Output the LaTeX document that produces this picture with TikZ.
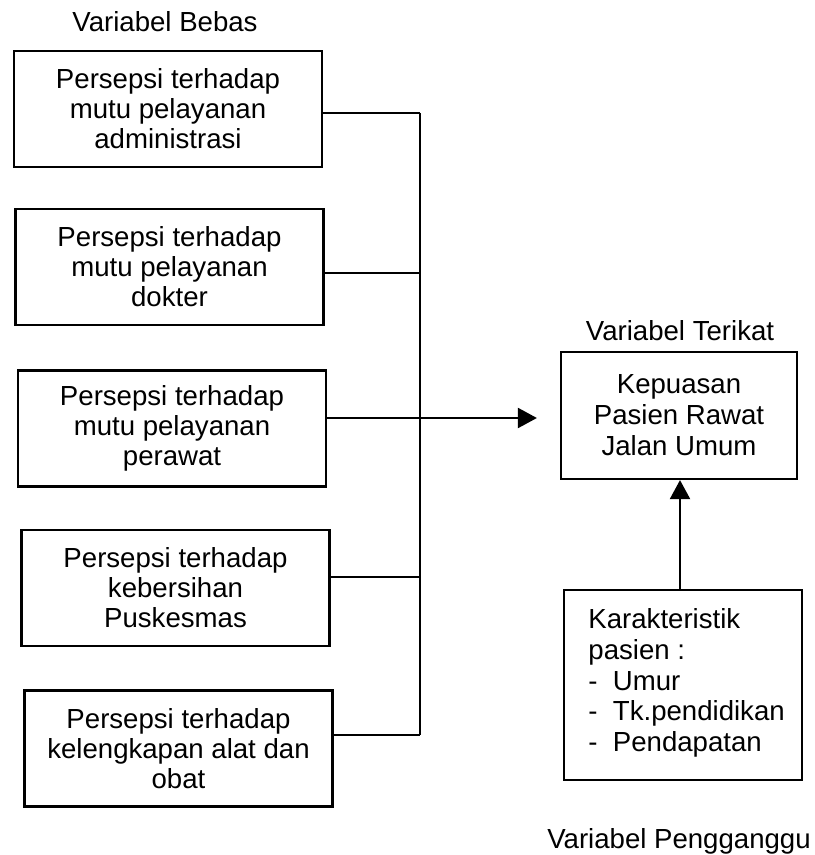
\documentclass[tikz,border=0pt]{standalone}
\usepackage{fontspec}
\setmainfont{Liberation Sans}
\usetikzlibrary{arrows.meta}
\begin{document}
\begin{tikzpicture}[x=0.5pt,y=-0.5pt,
  lbl/.style={font=\fontsize{13.8}{15.4}\selectfont, inner sep=0pt},
  varbox/.style={draw, line width=1.1pt, minimum width=154pt, minimum height=58pt,
    align=center, font=\fontsize{13.8}{15}\selectfont, inner sep=0pt},
  link/.style={line width=1.1pt},
  tip/.style={-{Triangle[length=9.5pt,width=10pt]}}]
\useasboundingbox (0,0) rectangle (814,855);

% independent variables
\node[lbl, anchor=base] (tbebas) at (165,32) {Variabel Bebas};
\node[varbox] (v1) at (168,109)   {Persepsi terhadap\\mutu pelayanan\\administrasi};
\node[varbox] (v2) at (169.5,267) {Persepsi terhadap\\mutu pelayanan\\dokter};
\node[varbox] (v3) at (172,428.5) {Persepsi terhadap\\mutu pelayanan\\perawat};
\node[varbox] (v4) at (175.5,588) {Persepsi terhadap\\kebersihan\\Puskesmas};
\node[varbox] (v5) at (178.5,748.5) {Persepsi terhadap\\kelengkapan alat dan\\obat};

% dependent variable
\node[lbl, anchor=base] (tterikat) at (680,340) {Variabel Terikat};
\node[varbox, minimum width=118pt, minimum height=63.5pt, font=\fontsize{13.8}{15.5}\selectfont]
  (dep) at (679,415.5) {Kepuasan\\Pasien Rawat\\Jalan Umum};

% confounding variable
\node[draw, line width=1.1pt, minimum width=119pt, minimum height=95pt, inner sep=0pt]
  (conf) at (683,685) {};
\node[lbl, anchor=north west, align=left, font=\fontsize{13.8}{15.4}\selectfont]
  (conftext) at (588,608) {Karakteristik\\pasien :\\-\ \ Umur\\-\ \ Tk.pendidikan\\-\ \ Pendapatan};
\node[lbl, anchor=base] (tganggu) at (679,848) {Variabel Pengganggu};

% collecting bus
\coordinate (j1) at (420,113);
\coordinate (j2) at (420,273);
\coordinate (j3) at (420,418);
\coordinate (j4) at (420,577);
\coordinate (j5) at (420,735);
\draw[link] (v1.east |- j1) -- (j1);
\draw[link] (v2.east |- j2) -- (j2);
\draw[link] (v3.east |- j3) -- (j3);
\draw[link] (v4.east |- j4) -- (j4);
\draw[link] (v5.east |- j5) -- (j5);
\draw[link] (j1) -- (j5);
\draw[link, tip, shorten >=11.5pt] (j3) -- (dep.west |- j3);

% confounder to outcome
\coordinate (ax) at (680,0);
\draw[link, tip] (conf.north -| ax) -- (dep.south -| ax);
\end{tikzpicture}
\end{document}
